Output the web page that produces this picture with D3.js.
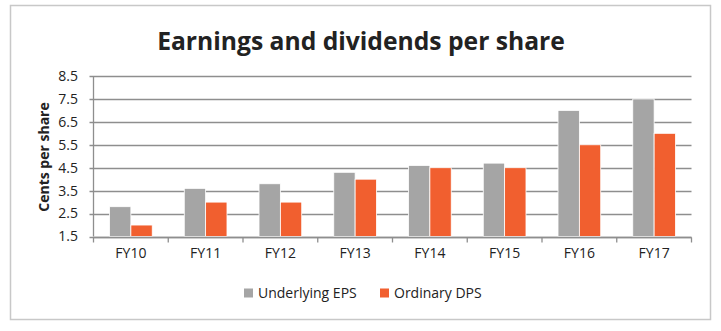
<!DOCTYPE html>
<html>
<head>
<meta charset="utf-8">
<script src="https://cdn.jsdelivr.net/npm/d3@7"></script>
<style>
  body { margin: 0; background: #fff; }
  text { font-family: "Open Sans", "Noto Sans", sans-serif; fill: #222; }
</style>
</head>
<body>
<svg id="chart" width="721" height="331"></svg>
<script>
const categories = ["FY10", "FY11", "FY12", "FY13", "FY14", "FY15", "FY16", "FY17"];
const seriesNames = ["Underlying EPS", "Ordinary DPS"];
const epsValues = [2.8, 3.6, 3.8, 4.3, 4.6, 4.7, 7.0, 7.5];
const dpsValues = [2.0, 3.0, 3.0, 4.0, 4.5, 4.5, 5.5, 6.0];
const yTicks = [1.5, 2.5, 3.5, 4.5, 5.5, 6.5, 7.5, 8.5];
const colors = ["#a5a5a5", "#f15f2f"];

const svg = d3.select("#chart");
const margin = { left: 93.5, right: 29.5, top: 76, bottom: 94.5 };
const W = 721, H = 331;

// chart border
svg.append("rect")
  .attr("x", 10.5).attr("y", 5.5)
  .attr("width", 700).attr("height", 314)
  .attr("fill", "#fff")
  .attr("stroke", "#c8c8c8").attr("stroke-width", 1.5);

const x = d3.scaleBand()
  .domain(categories)
  .range([margin.left, W - margin.right]);

const inner = d3.scaleBand()
  .domain(seriesNames)
  .range([0, x.bandwidth()])
  .paddingInner(0)
  .paddingOuter(0.75);

const y = d3.scaleLinear()
  .domain([1.5, 8.5])
  .range([H - margin.bottom, margin.top]);

// gridlines
svg.append("g")
  .selectAll("line")
  .data(yTicks)
  .join("line")
  .attr("x1", margin.left - 4).attr("x2", W - margin.right)
  .attr("y1", d => Math.round(y(d)) + 0.5).attr("y2", d => Math.round(y(d)) + 0.5)
  .attr("stroke", "#8e8e8e").attr("stroke-width", 1.3);

// y labels
svg.append("g")
  .selectAll("text")
  .data(yTicks)
  .join("text")
  .attr("x", 78).attr("y", d => y(d))
  .attr("dy", "0.35em")
  .attr("text-anchor", "end")
  .attr("font-size", 14)
  .text(d => d.toFixed(1));

// bars
const rows = categories.map((c, i) => ({ cat: c, vals: [epsValues[i], dpsValues[i]] }));
const groups = svg.append("g")
  .selectAll("g")
  .data(rows)
  .join("g")
  .attr("transform", d => `translate(${x(d.cat)},0)`);

groups.selectAll("rect")
  .data(d => d.vals.map((v, j) => ({ name: seriesNames[j], v, j })))
  .join("rect")
  .attr("x", d => inner(d.name))
  .attr("width", inner.bandwidth())
  .attr("y", d => y(d.v))
  .attr("height", d => y(1.5) - y(d.v))
  .attr("fill", d => colors[d.j])
  .attr("stroke", "#fff").attr("stroke-width", 0.8);

// y axis line
svg.append("line")
  .attr("x1", margin.left).attr("x2", margin.left)
  .attr("y1", y(8.5)).attr("y2", y(1.5))
  .attr("stroke", "#8e8e8e").attr("stroke-width", 1.3);

// x axis line and ticks
const xAxisY = Math.round(y(1.5)) + 0.5;
svg.append("line")
  .attr("x1", margin.left).attr("x2", W - margin.right)
  .attr("y1", xAxisY).attr("y2", xAxisY)
  .attr("stroke", "#8e8e8e").attr("stroke-width", 1.3);

const bounds = categories.map(c => x(c)).concat([x.range()[1]]);
svg.append("g")
  .selectAll("line")
  .data(bounds)
  .join("line")
  .attr("x1", d => d).attr("x2", d => d)
  .attr("y1", xAxisY).attr("y2", xAxisY + 5)
  .attr("stroke", "#8e8e8e").attr("stroke-width", 1.3);

svg.append("g")
  .selectAll("text")
  .data(categories)
  .join("text")
  .attr("x", d => x(d) + x.bandwidth() / 2)
  .attr("y", 258)
  .attr("text-anchor", "middle")
  .attr("font-size", 14)
  .text(d => d);

// y axis title
svg.append("text")
  .attr("transform", "translate(49,157) rotate(-90)")
  .attr("text-anchor", "middle")
  .attr("font-size", 14)
  .attr("font-weight", "bold")
  .text("Cents per share");

// title
const title = svg.append("text")
  .attr("x", 361).attr("y", 50)
  .attr("text-anchor", "middle")
  .attr("font-size", 26)
  .attr("font-weight", "bold")
  .attr("fill", "#000")
  .text("Earnings and dividends per share");
const tw = title.node().getComputedTextLength();
title.attr("font-size", 26 * 408 / tw);

// legend
const legendX = [244, 380];
const lg = svg.append("g")
  .selectAll("g")
  .data(seriesNames)
  .join("g")
  .attr("transform", (d, i) => `translate(${legendX[i]},293)`);
lg.append("rect")
  .attr("x", 0).attr("y", -4.5)
  .attr("width", 9).attr("height", 9)
  .attr("fill", (d, i) => colors[i]);
lg.append("text")
  .attr("x", 14).attr("dy", "0.35em")
  .attr("font-size", 14)
  .text(d => d);
</script>
</body>
</html>
